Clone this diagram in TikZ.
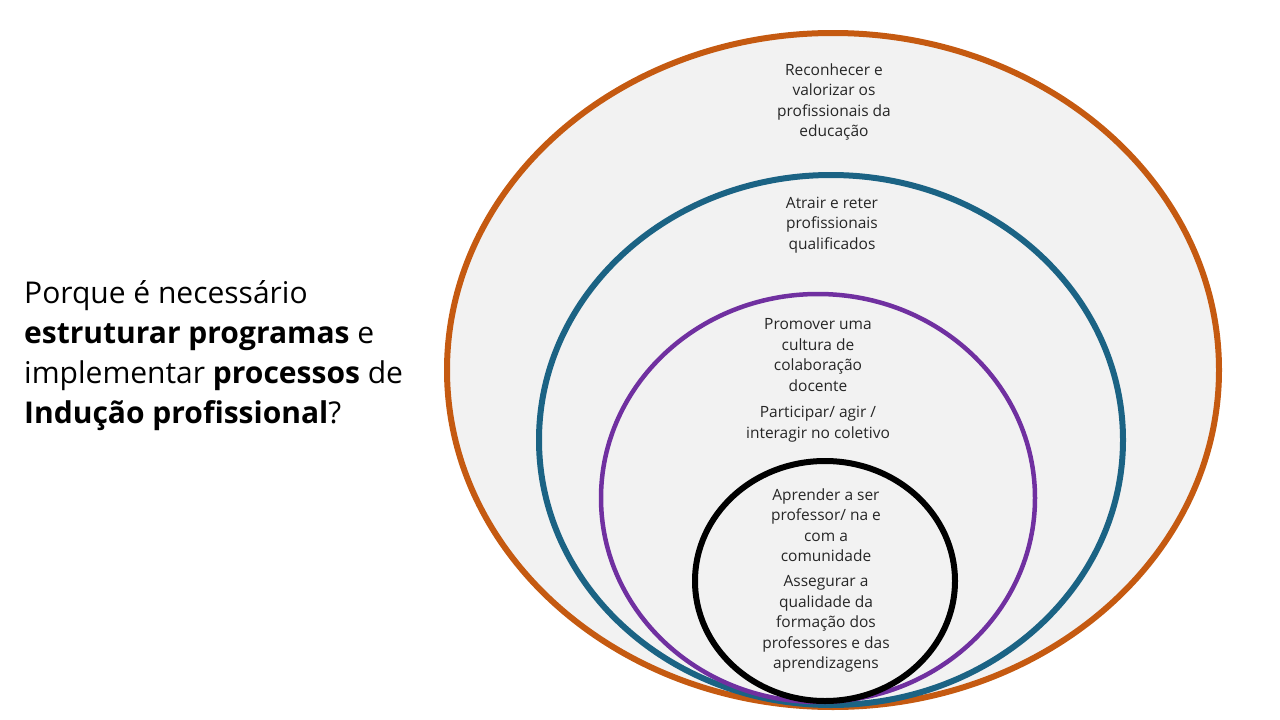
\documentclass[tikz,border=0pt]{standalone}
\usepackage{fontspec}
\setmainfont{Open Sans}
\definecolor{corange}{HTML}{C55A11}
\definecolor{cblue}{HTML}{1B6384}
\definecolor{cpurple}{HTML}{7030A0}
\definecolor{cfill}{HTML}{F2F2F2}
\begin{document}
\begin{tikzpicture}[x=1pt,y=-1pt,
  ring/.style={fill=cfill,line width=6pt},
  lbl/.style={align=center,font=\fontsize{15.5}{20.5}\selectfont,text=black!85,inner sep=0pt},
  big/.style={align=left,anchor=north west,font=\fontsize{30}{40}\selectfont,inner sep=0pt}]
\useasboundingbox (0,0) rectangle (1280,720);
\draw[ring,draw=corange] (833,370) ellipse [x radius=386,y radius=337];
\draw[ring,draw=cblue] (831,440) ellipse [x radius=292,y radius=265];
\draw[ring,draw=cpurple,line width=4.5pt] (818,498) ellipse [x radius=217,y radius=204];
\draw[ring,draw=black] (825,581) ellipse [x radius=130,y radius=120];
\node[lbl] (t1) at (834,102) {Reconhecer e\\valorizar os\\profissionais da\\educação};
\node[lbl] (t2) at (832,225) {Atrair e reter\\profissionais\\qualificados};
\node[lbl] (t3) at (818,355) {Promover uma\\cultura de\\colaboração\\docente};
\node[lbl] (t4) at (818,424) {Participar/ agir /\\interagir no coletivo};
\node[lbl] (t5) at (826,525) {Aprender a ser\\professor/ na e\\com a\\comunidade};
\node[lbl] (t6) at (826,624) {Assegurar a\\qualidade da\\formação dos\\professores e das\\aprendizagens};
\node[big] (q) at (24,280) {Porque é necessário\\\textbf{estruturar programas} e\\implementar \textbf{processos} de\\\textbf{Indução profissional}?};
\end{tikzpicture}
\end{document}
